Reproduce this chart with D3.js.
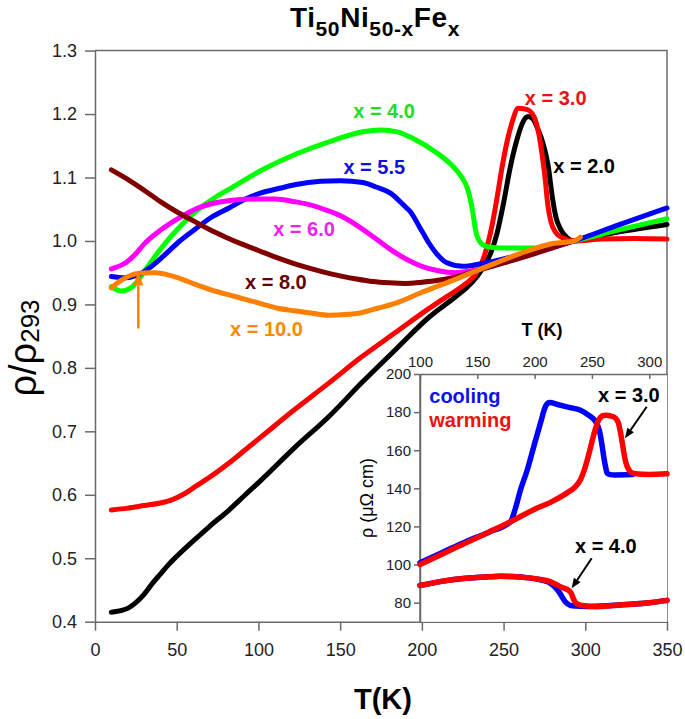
<!DOCTYPE html>
<html><head><meta charset="utf-8">
<script src="https://cdn.jsdelivr.net/npm/d3@7"></script>
<style>
body{margin:0;background:#fff}
svg{display:block}
text{font-family:"Liberation Sans",Arial,sans-serif}
</style>
</head><body>
<svg id="c" width="685" height="719"></svg>
<script>
// ---------- main panel data : T (K) and rho/rho293 ----------
const T_x20 = [10,15,20,25,30,35,40,45,50,60,70,82,92,102,122,143,163,184,204,220,228,234,238,242,246,250,254,258,262,265,268,271,274,276,277.5,279,280.5,282,285,289,293,300,320,350];
const V_x20 = [0.415,0.417,0.421,0.430,0.443,0.460,0.475,0.490,0.503,0.527,0.550,0.576,0.600,0.624,0.674,0.723,0.776,0.829,0.879,0.911,0.928,0.945,0.960,0.980,1.012,1.060,1.115,1.158,1.188,1.196,1.192,1.176,1.155,1.135,1.115,1.085,1.058,1.038,1.018,1.005,1.000,1.004,1.014,1.026];

const T_x30 = [10,20,30,40,47,55,62,72,82,92,102,122,143,163,184,204,215,227,233,237,240,243,246,249,252,255,259,263,266,269,271,272.5,274,275.5,277,279,282,286,293,310,330,350];
const V_x30 = [0.576,0.579,0.583,0.587,0.592,0.602,0.614,0.631,0.650,0.671,0.692,0.734,0.776,0.817,0.856,0.893,0.912,0.933,0.948,0.968,0.992,1.025,1.068,1.115,1.155,1.185,1.209,1.208,1.205,1.194,1.176,1.155,1.128,1.097,1.058,1.030,1.013,1.005,1.000,1.003,1.004,1.003];

const T_x40 = [10,16,22,27,31,41,51,61,72,83,103,123,144,164,175,185,195,209,216,221,225,228,231,233,236,240,250,270,285,293,320,350];
const V_x40 = [0.928,0.921,0.926,0.940,0.955,0.990,1.020,1.045,1.066,1.083,1.113,1.137,1.157,1.172,1.175,1.172,1.161,1.139,1.125,1.112,1.098,1.082,1.048,1.015,0.997,0.991,0.989,0.989,0.996,1.000,1.017,1.035];

const T_x55 = [10,18,26,33,41,51,61,71,82,92,102,113,123,138,150,164,172,181,189,193,199,204,209,215,225,240,260,293,320,350];
const V_x55 = [0.944,0.942,0.946,0.957,0.974,0.998,1.018,1.037,1.052,1.066,1.076,1.083,1.089,1.094,1.095,1.092,1.085,1.075,1.056,1.046,1.020,0.998,0.980,0.966,0.960,0.966,0.978,1.000,1.025,1.052];

const T_x60 = [10,19,25,30,38,50,64,72,84,98,110,122,130,140,150,160,170,180,190,200,210,220,234,250,270,293];
const V_x60 = [0.956,0.966,0.980,0.995,1.013,1.034,1.053,1.059,1.064,1.066,1.066,1.062,1.058,1.050,1.040,1.025,1.007,0.988,0.972,0.960,0.953,0.950,0.955,0.966,0.981,1.000];

const T_x80 = [10,20,30,40,50,60,70,80,90,100,110,120,130,140,150,160,170,180,190,200,210,220,236,255,275,293];
const V_x80 = [1.112,1.097,1.080,1.062,1.046,1.032,1.018,1.006,0.995,0.985,0.975,0.966,0.958,0.951,0.945,0.940,0.936,0.934,0.933,0.935,0.938,0.943,0.955,0.969,0.985,1.000];

const T_x100 = [10,16,22,27,33,37,44,51,61,71,82,92,102,112,122,133,143,153,163,173,184,199,219,240,260,280,293,297];
const V_x100 = [0.926,0.938,0.946,0.949,0.950,0.950,0.947,0.942,0.932,0.923,0.915,0.908,0.901,0.894,0.890,0.886,0.883,0.884,0.887,0.894,0.902,0.918,0.938,0.960,0.980,0.996,1.000,1.006];

// ---------- inset data : T (K) and rho (micro-ohm cm) ----------
const T_cool30 = [100,120,140,160,179,183,187.6,193.5,199.3,205,209.5,213,220,230,240,248,252,255,257,259,260.3,262,263.2,266,270,285];
const R_cool30 = [101,106.5,112,117,122.5,129,139,149.5,162,174,183,185,184,182.5,181,178,176,173,169,162,156.6,151,148,147.2,147,147.2];
const T_warm30 = [100,130,160,179,200,215,228,235,240,243,246,249,252,254,256,258,260,263,266,269,271,273,275,277,279,281,284,288,300,315.5];
const R_warm30 = [100,108.5,117,122.5,129,133,137.5,140.5,144.5,149,155,162,169,173,176,177.5,178.2,178.3,178,177.5,176.5,174.5,169,162,155,151,148.5,147.6,147.3,147.6];
const T_cool40 = [100,120,140,160,170,180,195,205,212,218,222,225,227,231,236,245,260,280,300,315.5];
const R_cool40 = [89,91.3,92.8,93.6,93.8,93.7,93,92,90.8,88,85,82,80.3,78.6,78.2,78,78.3,79,80,81.2];
const T_warm40 = [100,120,140,160,170,180,195,205,211,218,223,227,230,232,234,236,240,254,280,300,315.5];
const R_warm40 = [89,91.3,92.8,93.6,93.8,93.7,93,92.2,91.5,89.8,88.2,87.3,86.3,84.8,81.8,79.8,78.7,77.9,79,80,81.2];

// ---------- ticks ----------
const xTicks = [0,50,100,150,200,250,300,350];
const yTicks = [0.4,0.5,0.6,0.7,0.8,0.9,1.0,1.1,1.2,1.3];
const insetXTicks = [100,150,200,250,300];
const insetYTicks = [80,100,120,140,160,180,200];

// ---------- labels ----------
const mainLabels = [
  {text:"x = 4.0", T:158, v:1.193, color:"#22dd22"},
  {text:"x = 5.5", T:152, v:1.106, color:"#1010dd"},
  {text:"x = 6.0", T:109, v:1.008, color:"#ee22ee"},
  {text:"x = 3.0", T:263, v:1.215, color:"#ee1111"},
  {text:"x = 2.0", T:280.4, v:1.107, color:"#000000"},
  {text:"x = 8.0", T:91.8, v:0.924, color:"#660000"},
  {text:"x = 10.0", T:82.6, v:0.851, color:"#ff8800"}
];
const insetLabels = [
  {text:"cooling", T:108.1, r:184.6, color:"#1010ee", size:20},
  {text:"warming", T:108.1, r:172.3, color:"#ee1111", size:20},
  {text:"x = 3.0", T:255.3, r:185.5, color:"#000", size:20},
  {text:"x = 4.0", T:235.2, r:106, color:"#000", size:20}
];
const orangeArrow = {T:26.5, v0:0.862, v1:0.952};
const insetArrows = [
  {T0:297.8, r0:182.8, T1:278.8, r1:166.3},
  {T0:249.8, r0:103.3, T1:232.3, r1:87.5}
];

// ---------- drawing ----------
const svg = d3.select("#c");
const x = d3.scaleLinear([0,350],[95,667]);
const y = d3.scaleLinear([0.4,1.3],[621.7,50.6]);
const ix = d3.scaleLinear([100,315.5],[420,667]);
const iy = d3.scaleLinear([70,200],[621.7,374]);
const axisColor = "#6a6a6a";

// frame (top / right)
svg.append("path").attr("d",`M${x(0)},${y(1.3)}H${x(350)}V${y(0.4)}`)
  .attr("fill","none").attr("stroke",axisColor).attr("stroke-width",1.5);

function styleAxis(g, fs){
  g.select(".domain").attr("stroke",axisColor).attr("stroke-width",1.5);
  g.selectAll(".tick line").attr("stroke",axisColor).attr("stroke-width",1.5);
  g.selectAll(".tick text").attr("fill","#222").style("font-size",fs+"px")
   .style("font-family",'"Liberation Sans",Arial,sans-serif');
}

const gx = svg.append("g").attr("transform",`translate(0,${y(0.4)})`)
  .call(d3.axisBottom(x).tickValues(xTicks).tickSize(9).tickSizeOuter(0).tickPadding(13).tickFormat(d3.format("d")));
styleAxis(gx,18);
const gy = svg.append("g").attr("transform",`translate(${x(0)},0)`)
  .call(d3.axisLeft(y).tickValues(yTicks).tickSize(10).tickSizeOuter(0).tickPadding(8).tickFormat(d3.format(".1f")));
styleAxis(gy,18);

// main curves
const line = d3.line().x(d=>x(d[0])).y(d=>y(d[1])).curve(d3.curveMonotoneX);
const mainSeries = [
  {T:T_x20, V:V_x20, color:"#000000"},
  {T:T_x30, V:V_x30, color:"#ff0000"},
  {T:T_x40, V:V_x40, color:"#00ff00"},
  {T:T_x55, V:V_x55, color:"#0000ff"},
  {T:T_x60, V:V_x60, color:"#ff00ff"},
  {T:T_x80, V:V_x80, color:"#800000"},
  {T:T_x100, V:V_x100, color:"#ff8000"}
];
svg.append("g").selectAll("path").data(mainSeries).join("path")
  .attr("d",s=>line(s.T.map((t,i)=>[t,s.V[i]])))
  .attr("fill","none").attr("stroke",s=>s.color).attr("stroke-width",5)
  .attr("stroke-linecap","round").attr("stroke-linejoin","round");

// main labels
svg.append("g").selectAll("text").data(mainLabels).join("text")
  .attr("x",d=>x(d.T)).attr("y",d=>y(d.v)).attr("fill",d=>d.color)
  .style("font-size","20px").style("font-weight","bold").text(d=>d.text);

function arrow(g, x0,y0,x1,y1,color,w,L,W){
  const a = Math.atan2(y1-y0,x1-x0);
  const bx = x1-L*Math.cos(a), by = y1-L*Math.sin(a);
  g.append("line").attr("x1",x0).attr("y1",y0).attr("x2",bx).attr("y2",by)
    .attr("stroke",color).attr("stroke-width",w);
  const px=-Math.sin(a), py=Math.cos(a);
  g.append("path").attr("d",`M${x1},${y1}L${bx+px*W},${by+py*W}L${bx-px*W},${by-py*W}Z`).attr("fill",color);
}
arrow(svg, x(orangeArrow.T), y(orangeArrow.v0), x(orangeArrow.T), y(orangeArrow.v1), "#ff8000", 2.5, 14, 5);

// titles
const title = svg.append("text").attr("x",375).attr("y",27).attr("text-anchor","middle")
  .style("font-weight","bold").style("font-size","28px").style("letter-spacing","0.6px").attr("fill","#000");
title.append("tspan").text("Ti");
title.append("tspan").text("50").attr("dy",9).style("font-size","21px");
title.append("tspan").text("Ni").attr("dy",-9);
title.append("tspan").text("50-x").attr("dy",9).style("font-size","21px");
title.append("tspan").text("Fe").attr("dy",-9);
title.append("tspan").text("x").attr("dy",9).style("font-size","21px");

svg.append("text").attr("x",383).attr("y",709).attr("text-anchor","middle")
  .style("font-weight","bold").style("font-size","29px").text("T(K)");

const yl = svg.append("text").attr("transform","translate(36,348) rotate(-90)")
  .attr("text-anchor","middle").style("font-size","38px").attr("fill","#000");
yl.append("tspan").text("ρ/ρ");
yl.append("tspan").text("293").attr("dy",3).style("font-size","26px");

// ---------- inset ----------
svg.append("rect").attr("x",ix(100)).attr("y",iy(200)).attr("width",ix(315.5)-ix(100)).attr("height",iy(70)-iy(200)).attr("fill","#fff");
const gix = svg.append("g").attr("transform",`translate(0,${iy(200)})`)
  .call(d3.axisTop(ix).tickValues(insetXTicks).tickSize(-5).tickSizeOuter(0).tickPadding(7).tickFormat(d3.format("d")));
styleAxis(gix,15);
const giy = svg.append("g").attr("transform",`translate(${ix(100)},0)`)
  .call(d3.axisLeft(iy).tickValues(insetYTicks).tickSize(6).tickSizeOuter(0).tickPadding(3).tickFormat(d3.format("d")));
styleAxis(giy,15);
svg.append("line").attr("x1",ix(100)).attr("x2",ix(100)).attr("y1",iy(200)).attr("y2",iy(70)).attr("stroke",axisColor).attr("stroke-width",1.5);

const iline = d3.line().x(d=>ix(d[0])).y(d=>iy(d[1])).curve(d3.curveMonotoneX);
const insetSeries = [
  {T:T_cool30, R:R_cool30, color:"#0000ff"},
  {T:T_cool40, R:R_cool40, color:"#0000ff"},
  {T:T_warm30, R:R_warm30, color:"#ff0000"},
  {T:T_warm40, R:R_warm40, color:"#ff0000"}
];
svg.append("g").selectAll("path").data(insetSeries).join("path")
  .attr("d",s=>iline(s.T.map((t,i)=>[t,s.R[i]])))
  .attr("fill","none").attr("stroke",s=>s.color).attr("stroke-width",5.5)
  .attr("stroke-linecap","round").attr("stroke-linejoin","round");

svg.append("g").selectAll("text").data(insetLabels).join("text")
  .attr("x",d=>ix(d.T)).attr("y",d=>iy(d.r)).attr("fill",d=>d.color)
  .style("font-size",d=>d.size+"px").style("font-weight","bold").text(d=>d.text);
insetArrows.forEach(a=>arrow(svg, ix(a.T0), iy(a.r0), ix(a.T1), iy(a.r1), "#000", 2, 10, 4));

svg.append("text").attr("x",542).attr("y",336).attr("text-anchor","middle")
  .style("font-weight","bold").style("font-size","18px").text("T (K)");
svg.append("text").attr("transform","translate(373,498) rotate(-90)").attr("text-anchor","middle")
  .style("font-size","18px").text("ρ (μΩ cm)");
</script>
</body></html>
